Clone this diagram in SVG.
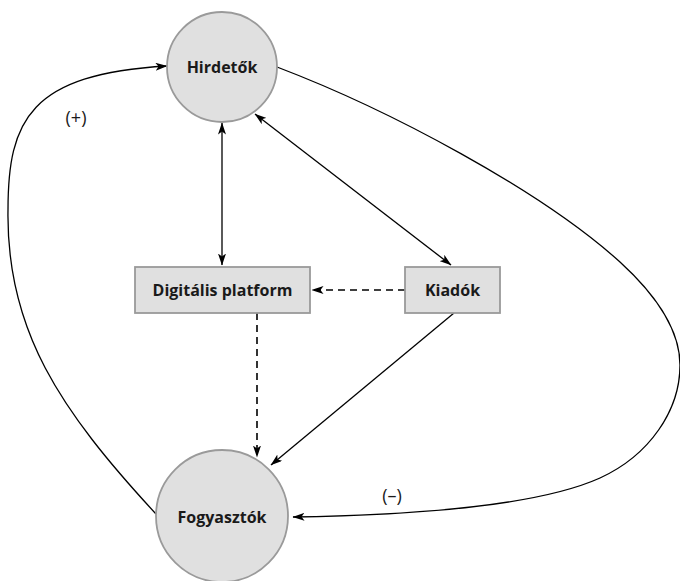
<svg xmlns="http://www.w3.org/2000/svg" width="680" height="581" viewBox="0 0 680 581">
<style>
.node{fill:#e0e0e0;stroke:#9a9a9a;stroke-width:1.8}
.lbl{font-family:"Open Sans","Liberation Sans",sans-serif;font-weight:bold;font-size:16px;fill:#1a1a1a;text-anchor:middle;dominant-baseline:central}
.sign{font-family:"Open Sans","Liberation Sans",sans-serif;font-size:18px;fill:#1a1a1a;text-anchor:middle;dominant-baseline:central}
.c{fill:none;stroke:#000;stroke-width:1.3}
.d{fill:none;stroke:#000;stroke-width:1.6;stroke-dasharray:7,5}
</style>
<defs>
<marker id="ah" viewBox="0 0 12 8" refX="11.5" refY="4" markerWidth="12" markerHeight="8" markerUnits="userSpaceOnUse" orient="auto-start-reverse">
<path d="M0,0 L12,4 L0,8 L3,4 z" fill="#000"/>
</marker>
</defs>
<g id="connectors">
<line class="c" x1="222" y1="123" x2="222" y2="265" marker-start="url(#ah)" marker-end="url(#ah)"/>
<line class="c" x1="255" y1="114" x2="451" y2="265" marker-start="url(#ah)" marker-end="url(#ah)"/>
<line class="d" x1="405" y1="290" x2="312" y2="290" marker-end="url(#ah)"/>
<line class="d" x1="257" y1="313" x2="257" y2="457" marker-end="url(#ah)"/>
<line class="c" x1="454" y1="313" x2="271" y2="465" marker-end="url(#ah)"/>
<path class="c" d="M277,67 C390,110 540,190 620,262 C655,294 680,330 680,365 C680,410 650,455 600,478 C540,505 420,515 293,517" marker-end="url(#ah)"/>
<path class="c" d="M156,514 C60,410 6,330 8,210 C8,120 30,74 167,66" marker-end="url(#ah)"/>
</g>
<g id="hirdetok">
<circle class="node" cx="222" cy="67" r="55"/>
<text class="lbl" x="222" y="67">Hirdetők</text>
</g>
<g id="digitalis-platform">
<rect class="node" x="135" y="267" width="175" height="46"/>
<text class="lbl" x="222.5" y="290">Digitális platform</text>
</g>
<g id="kiadok">
<rect class="node" x="405" y="267" width="95" height="46"/>
<text class="lbl" x="452.5" y="290">Kiadók</text>
</g>
<g id="fogyasztok">
<circle class="node" cx="222" cy="516" r="66"/>
<text class="lbl" x="222" y="517">Fogyasztók</text>
</g>
<g id="labels">
<text class="sign" x="76" y="117">(+)</text>
<text class="sign" x="392" y="495">(–)</text>
</g>
</svg>
